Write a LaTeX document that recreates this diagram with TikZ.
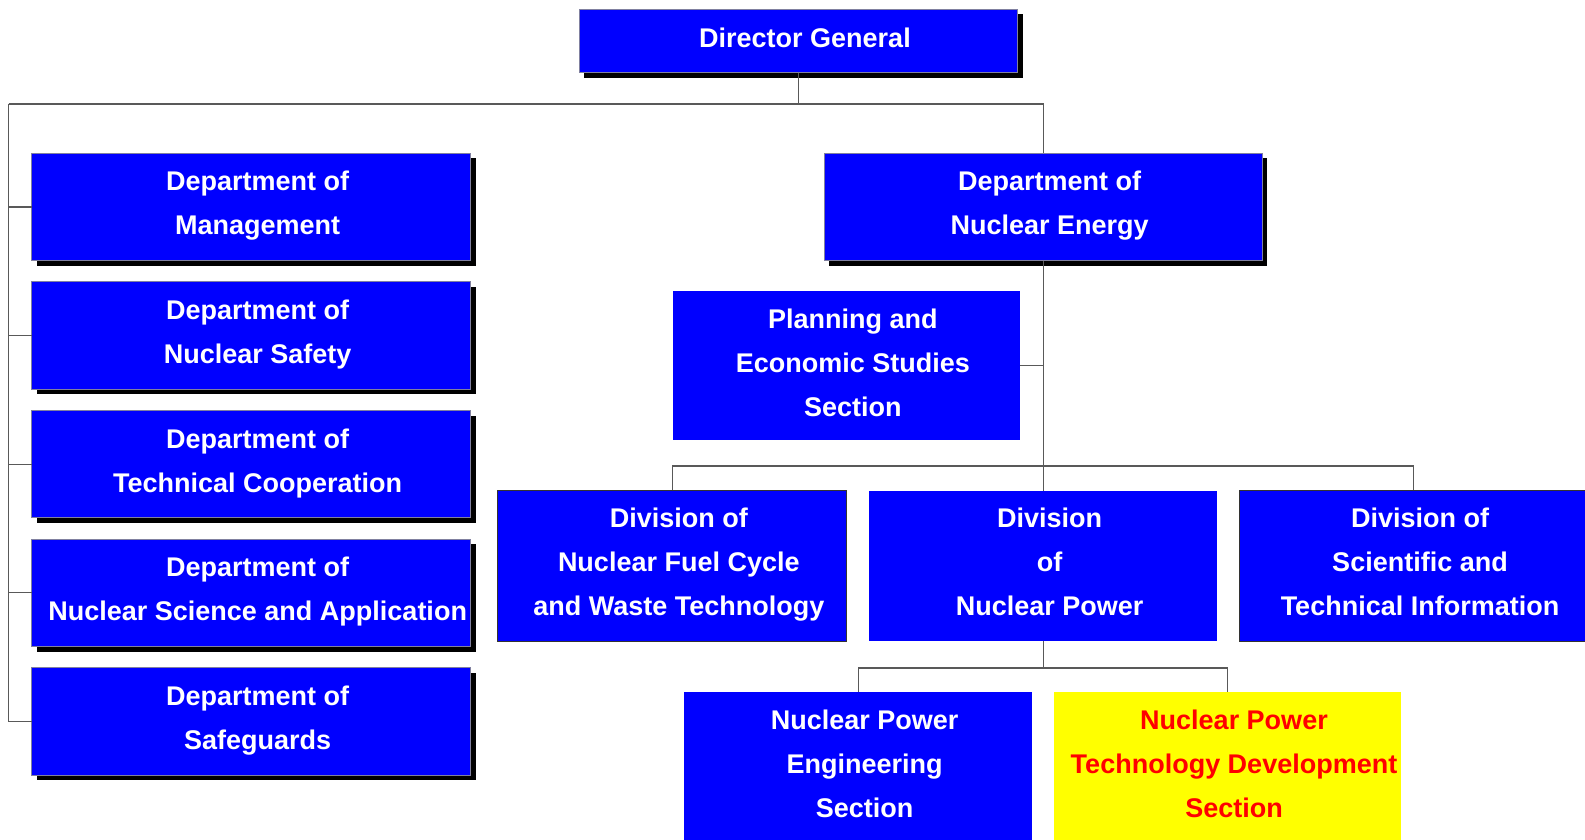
\documentclass[tikz,border=0pt]{standalone}
\usepackage{fontspec}
\setmainfont{Liberation Sans}
\usetikzlibrary{shadows}
\definecolor{boxblue}{RGB}{0,0,255}
\definecolor{boxyellow}{RGB}{255,255,0}
\definecolor{boxred}{RGB}{255,0,0}
\definecolor{rimgray}{RGB}{128,128,160}
\newcommand\tlines[1]{\begin{tabular}[t]{@{}c@{}}#1\end{tabular}}
\begin{document}
\begin{tikzpicture}[x=1pt,y=-1pt,
  box/.style={rectangle, fill=boxblue, inner sep=0pt, outer sep=0pt},
  shadowbox/.style={box, draw=rimgray, line width=1pt,
    drop shadow={shadow xshift=5pt, shadow yshift=-5pt, opacity=1, fill=black}},
  darkbox/.style={box, draw=black!80, line width=1pt},
  txt/.style={anchor=base, inner sep=0pt, text=white,
    font=\bfseries\fontsize{27}{44}\selectfont},
  conn/.style={draw=black!65, line width=1.1pt}]
\useasboundingbox (0,0) rectangle (1585,840);
\clip (0,0) rectangle (1585,840);
% boxes
\node[shadowbox, minimum width=438.4pt, minimum height=63.4pt] (dg) at (798.5,41) {};
\node[shadowbox, minimum width=439pt, minimum height=107.4pt] (mgmt) at (251.2,207) {};
\node[shadowbox, minimum width=439pt, minimum height=107.4pt] (safety) at (251.2,335.6) {};
\node[shadowbox, minimum width=439pt, minimum height=107.4pt] (tc) at (251.2,464.2) {};
\node[shadowbox, minimum width=439pt, minimum height=107.4pt] (nsa) at (251.2,592.8) {};
\node[shadowbox, minimum width=439pt, minimum height=107.4pt] (sg) at (251.2,721.4) {};
\node[shadowbox, minimum width=438.4pt, minimum height=107.4pt] (dne) at (1043.2,207) {};
\node[box, minimum width=346.5pt, minimum height=149.5pt] (plan) at (846.3,365.7) {};
\node[darkbox, minimum width=348.7pt, minimum height=151.5pt] (fuel) at (672.3,566.2) {};
\node[box, minimum width=347.8pt, minimum height=149.7pt] (dnp) at (1043.2,565.9) {};
\node[darkbox, minimum width=349pt, minimum height=151.5pt] (sti) at (1413.5,566.2) {};
\node[box, minimum width=347.4pt, minimum height=150pt] (npe) at (858.1,767) {};
\node[box, fill=boxyellow, minimum width=347.4pt, minimum height=150pt] (nptd) at (1227.5,767) {};
% connectors
\coordinate (busL) at (8.7,104);
\coordinate (busR) at (1043.2,104);
\coordinate (divbus) at (1043.2,466);
\coordinate (secbus) at (1043.2,668);
\draw[conn] (dg.south) -- (dg.south |- busL);
\draw[conn] (busL) -- (busR) -- (dne.north);
\draw[conn] (busL) -- (busL |- sg.west) -- (sg.west);
\foreach \n in {mgmt,safety,tc,nsa} {\draw[conn] (busL |- \n.west) -- (\n.west);}
\draw[conn] (dne.south) -- (dnp.north);
\draw[conn] (plan.east) -- (plan.east -| dne.south);
\draw[conn] (fuel.north) -- (fuel.north |- divbus) -- (sti.north |- divbus) -- (sti.north);
\draw[conn] (dnp.south) -- (secbus);
\draw[conn] (npe.north) -- (npe.north |- secbus) -- (nptd.north |- secbus) -- (nptd.north);
% texts
\node[txt] (dgt) at (805,47.5) {\tlines{Director General}};
\node[txt] (mgmtt) at (257.7,190.8) {\tlines{Department of\\Management}};
\node[txt] (safetyt) at (257.7,319.4) {\tlines{Department of\\Nuclear Safety}};
\node[txt] (tct) at (257.7,448) {\tlines{Department of\\Technical Cooperation}};
\node[txt] (nsat) at (257.7,576.6) {\tlines{Department of\\Nuclear Science and Application}};
\node[txt] (sgt) at (257.7,705.2) {\tlines{Department of\\Safeguards}};
\node[txt] (dnet) at (1049.7,190.8) {\tlines{Department of\\Nuclear Energy}};
\node[txt] (plant) at (852.8,328) {\tlines{Planning and\\Economic Studies\\Section}};
\node[txt] (fuelt) at (678.8,527.5) {\tlines{Division of\\Nuclear Fuel Cycle\\and Waste Technology}};
\node[txt] (dnpt) at (1049.7,527.5) {\tlines{Division\\of\\Nuclear Power}};
\node[txt] (stit) at (1420,527.5) {\tlines{Division of\\Scientific and\\Technical Information}};
\node[txt] (npet) at (864.6,729) {\tlines{Nuclear Power\\Engineering\\Section}};
\node[txt, text=boxred] (nptdt) at (1234,729) {\tlines{Nuclear Power\\Technology Development\\Section}};
\end{tikzpicture}
\end{document}
